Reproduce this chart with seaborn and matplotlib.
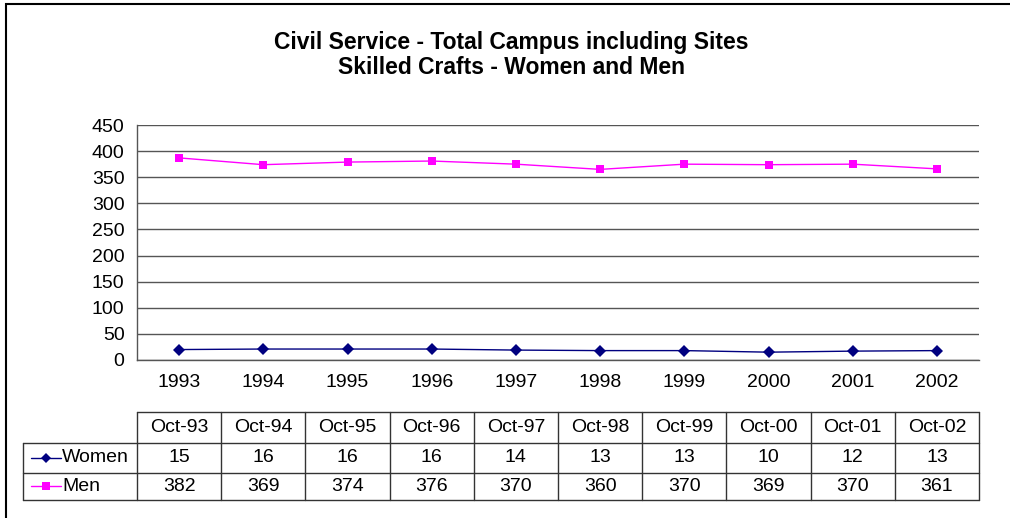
import numpy as np
import matplotlib.pyplot as plt
import matplotlib.transforms as mtransforms
from matplotlib.lines import Line2D
from matplotlib.patches import Rectangle
import pandas as pd
import seaborn as sns

years = ['1993', '1994', '1995', '1996', '1997', '1998', '1999', '2000', '2001', '2002']
months = ['Oct-93', 'Oct-94', 'Oct-95', 'Oct-96', 'Oct-97', 'Oct-98', 'Oct-99', 'Oct-00', 'Oct-01', 'Oct-02']
# values printed in the data table
women_table = [15, 16, 16, 16, 14, 13, 13, 10, 12, 13]
men_table = [382, 369, 374, 376, 370, 360, 370, 369, 370, 361]
# values as plotted on the chart
women_plot = [20, 21, 21, 21, 19, 18, 18, 15, 17, 18]
men_plot = [387, 374, 379, 381, 375, 365, 375, 374, 375, 366]
yticks = [0, 50, 100, 150, 200, 250, 300, 350, 400, 450]

series_colors = {'Women': '#000080', 'Men': '#FF00FF'}
series_markers = {'Women': 'D', 'Men': 's'}

df = pd.DataFrame({
    'pos': list(range(len(years))) * 2,
    'value': women_plot + men_plot,
    'series': ['Women'] * len(years) + ['Men'] * len(years),
})

sns.set_style('white')
plt.rcParams['font.family'] = ['Liberation Sans', 'DejaVu Sans']
plt.rcParams['text.color'] = 'black'
plt.rcParams['xtick.color'] = 'black'
plt.rcParams['ytick.color'] = 'black'
FS = 14
TFS = 16.5

W, H = 1010, 518
fig = plt.figure(figsize=(W / 100, H / 100), dpi=100)
ax = fig.add_axes([137 / W, (H - 360) / H, 842 / W, 235 / H])

sns.lineplot(data=df, x='pos', y='value', hue='series', style='series',
             palette=series_colors, markers=series_markers, dashes=False,
             markersize=6, markeredgewidth=0, linewidth=1.0, legend=False, ax=ax)

n = len(years)
ax.set_xlim(-0.5, n - 0.5)
ax.set_ylim(0, 450)
ax.set_yticks(yticks)
ax.set_yticklabels([str(v) for v in yticks], fontsize=FS)
ax.yaxis.grid(True, color='#555555', linewidth=1.0)
ax.set_axisbelow(True)

# category boundaries as major ticks, years as minor labels
ax.set_xticks(np.arange(-0.5, n, 1.0))
ax.set_xticklabels([])
ax.set_xticks(np.arange(n), minor=True)
ax.set_xticklabels(years, minor=True, fontsize=FS)
ax.tick_params(axis='x', which='major', direction='out', length=5, color='#555555', width=1)
ax.tick_params(axis='x', which='minor', length=0, pad=10)
ax.tick_params(axis='y', direction='out', length=5, color='#555555', width=1, pad=4)
ax.set_xlabel('')
ax.set_ylabel('')
for side in ['top', 'right']:
    ax.spines[side].set_visible(False)
for side in ['left', 'bottom']:
    ax.spines[side].set_color('#555555')
    ax.spines[side].set_linewidth(1.0)

# data table below the plot
blend = mtransforms.blended_transform_factory(ax.transData, ax.transAxes)
px = lambda y: (360 - y) / 235.0  # image pixel row -> axes y
y_top, y_h, y_w, y_m = px(412), px(443), px(473), px(500)
x_lab = -0.5 - (137 - 23) / 84.2
lc = '#333333'
lw = 1.0
ax.plot([-0.5, n - 0.5], [y_top, y_top], transform=blend, color=lc, lw=lw, clip_on=False)
for yy in [y_h, y_w, y_m]:
    ax.plot([x_lab, n - 0.5], [yy, yy], transform=blend, color=lc, lw=lw, clip_on=False)
ax.plot([x_lab, x_lab], [y_h, y_m], transform=blend, color=lc, lw=lw, clip_on=False)
for i in range(n + 1):
    ax.plot([i - 0.5, i - 0.5], [y_top, y_m], transform=blend, color=lc, lw=lw, clip_on=False)

for i in range(n):
    ax.text(i, (y_top + y_h) / 2, months[i], transform=blend, ha='center', va='center', fontsize=FS)
    ax.text(i, (y_h + y_w) / 2, str(women_table[i]), transform=blend, ha='center', va='center', fontsize=FS)
    ax.text(i, (y_w + y_m) / 2, str(men_table[i]), transform=blend, ha='center', va='center', fontsize=FS)

# legend keys inside the row labels
for name, yy in [('Women', (y_h + y_w) / 2), ('Men', (y_w + y_m) / 2)]:
    x0 = x_lab + 8 / 84.2
    x1 = x_lab + 38 / 84.2
    ax.add_line(Line2D([x0, x1], [yy, yy], transform=blend, color=series_colors[name], lw=1.0,
                       clip_on=False))
    ax.add_line(Line2D([(x0 + x1) / 2], [yy], transform=blend, color=series_colors[name],
                       marker=series_markers[name], markersize=5.5, markeredgewidth=0,
                       linestyle='none', clip_on=False))
    ax.text(x1 + 1 / 84.2, yy, name, transform=blend, ha='left', va='center', fontsize=FS)

fig.text(511 / W, 1 - 42 / H, 'Civil Service - Total Campus including Sites',
         ha='center', va='center', fontsize=TFS, fontweight='bold')
fig.text(511 / W, 1 - 68 / H, 'Skilled Crafts - Women and Men',
         ha='center', va='center', fontsize=TFS, fontweight='bold')

# outer chart border (right/bottom run off the image)
fig.patches.append(Rectangle((6 / W, -0.1), 1.2, 1.1 - 4 / H, transform=fig.transFigure,
                             fill=False, edgecolor='black', linewidth=1.5))

fig.savefig('out.png', dpi=100)
